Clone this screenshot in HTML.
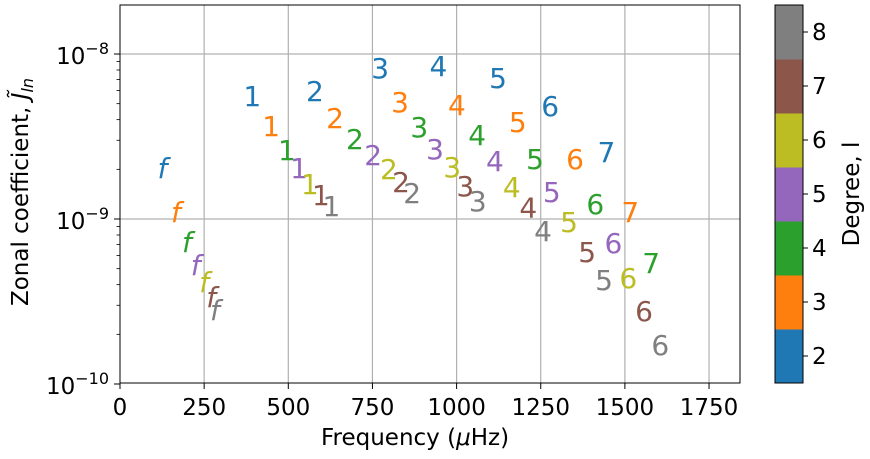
<!DOCTYPE html>
<html><head><meta charset="utf-8"><style>
body{margin:0;background:#fff;}
svg{display:block;font-family:"DejaVu Sans","Liberation Sans",sans-serif;}
</style></head><body>
<svg id="chart" width="870" height="459" viewBox="0 0 870 459" xmlns="http://www.w3.org/2000/svg">
<g id="grid"></g>
<g id="marks"></g>
<g id="axes"></g>
<g id="cbar"></g>
<text x="415" y="445" font-size="23" text-anchor="middle">Frequency (<tspan font-style="italic">μ</tspan>Hz)</text>
<text transform="translate(28,192) rotate(-90)" font-size="23" text-anchor="middle">Zonal coefficient, <tspan font-style="italic">J̃</tspan><tspan font-style="italic" font-size="16" dy="5">ln</tspan></text>
<text transform="translate(859,194) rotate(-90)" font-size="23" text-anchor="middle">Degree, l</text>
</svg>
<script>
const degrees = [2,3,4,5,6,7,8];
const labels = ["f","1","2","3","4","5","6","7"];
const freqs = [
 [126,393,579,773,946,1123,1278,1445],
 [166,449,639,832,1001,1182,1352,1516],
 [199,496,698,889,1061,1233,1412,1578],
 [225,532,752,936,1114,1283,1466],
 [250,564,799,987,1164,1334,1510],
 [271,597,835,1026,1213,1388,1557],
 [282,628,868,1063,1257,1438,1605]
];
const coeffs = [
 [2.04e-9,5.56e-9,5.97e-9,8.2e-9,8.46e-9,7.16e-9,4.84e-9,2.55e-9],
 [1.10e-9,3.66e-9,4.09e-9,5.12e-9,4.91e-9,3.87e-9,2.31e-9,1.10e-9],
 [0.726e-9,2.62e-9,3.05e-9,3.61e-9,3.23e-9,2.31e-9,1.23e-9,0.541e-9],
 [0.526e-9,2.04e-9,2.44e-9,2.66e-9,2.25e-9,1.46e-9,0.716e-9],
 [0.415e-9,1.63e-9,2.01e-9,2.07e-9,1.56e-9,0.96e-9,0.439e-9],
 [0.337e-9,1.40e-9,1.68e-9,1.58e-9,1.17e-9,0.631e-9,0.277e-9],
 [0.281e-9,1.20e-9,1.44e-9,1.29e-9,0.846e-9,0.427e-9,0.172e-9]
];
const xTicks = [0,250,500,750,1000,1250,1500,1750];
const yTickExps = [-10,-9,-8];
const colors = ["#1f77b4","#ff7f0e","#2ca02c","#9467bd","#bcbd22","#8c564b","#7f7f7f"];

const NS="http://www.w3.org/2000/svg";
const L=120,R=740,T=5,B=383,XMAX=1842;
const xS=f=>L+f*(R-L)/XMAX;
const yS=v=>219-(Math.log10(v)+9)*165;
function mk(tag,attrs,parent,txt){const e=document.createElementNS(NS,tag);for(const k in attrs)e.setAttribute(k,attrs[k]);if(txt!==undefined)e.textContent=txt;parent.appendChild(e);return e;}
const grid=document.getElementById('grid'),axes=document.getElementById('axes'),marks=document.getElementById('marks'),cb=document.getElementById('cbar');
xTicks.forEach(t=>{
 const x=xS(t);
 if(t>0){const g=mk('line',{x1:x,x2:x,y1:T,y2:B,stroke:'#b0b0b0','stroke-width':1.2},grid);
 
 }
 mk('line',{x1:x,x2:x,y1:B,y2:B+6,stroke:'#000','stroke-width':1},axes);
 const tl=mk('text',{x:x,y:B+32,'font-size':23,'text-anchor':'middle'},axes,String(t));
 
 
});
yTickExps.forEach(e=>{
 const y=yS(Math.pow(10,e));
 if(e>-10){const g=mk('line',{x1:L,x2:R,y1:y,y2:y,stroke:'#b0b0b0','stroke-width':1.2},grid);
 
 }
 mk('line',{x1:L-6,x2:L,y1:y,y2:y,stroke:'#000','stroke-width':1},axes);
 const tl=mk('text',{x:L-11,y:y+10,'font-size':23,'text-anchor':'end'},axes);
 
 
 tl.innerHTML='10<tspan font-size="16" dy="-10">'+(e<0?'−':'')+Math.abs(e)+'</tspan>';
});
for(let e=-10;e<-7;e++)for(let m=2;m<10;m++){const y=yS(m*Math.pow(10,e));if(y<T)continue;mk('line',{x1:L-3.5,x2:L,y1:y,y2:y,stroke:'#000','stroke-width':0.8},axes);}
mk('rect',{x:L,y:T,width:R-L,height:B-T,fill:'none',stroke:'#000','stroke-width':1},axes);
degrees.forEach((d,i)=>{
 freqs[i].forEach((f,j)=>{
  const t=mk('text',{x:xS(f),y:yS(coeffs[i][j])+10,'font-size':28,'text-anchor':'middle',fill:colors[i],'font-style':j===0?'italic':'normal'},marks,labels[j]);
  
  
 });
});
const cx=775,cw=28,cT=5,cB=383,bh=(cB-cT)/degrees.length;
degrees.forEach((d,i)=>{
 const y=cB-(i+1)*bh;
 const r=mk('rect',{x:cx,y:y,width:cw,height:bh+0.5,fill:colors[i]},cb);
 
 
 const yc=y+bh/2;
 mk('line',{x1:cx+cw,x2:cx+cw+5,y1:yc,y2:yc,stroke:'#000'},cb);
 const tl=mk('text',{x:cx+cw+9,y:yc+8,'font-size':23},cb,String(d));
 
 
});
mk('rect',{x:cx,y:cT,width:cw,height:cB-cT,fill:'none',stroke:'#000','stroke-width':1},cb);
</script>
</body></html>
